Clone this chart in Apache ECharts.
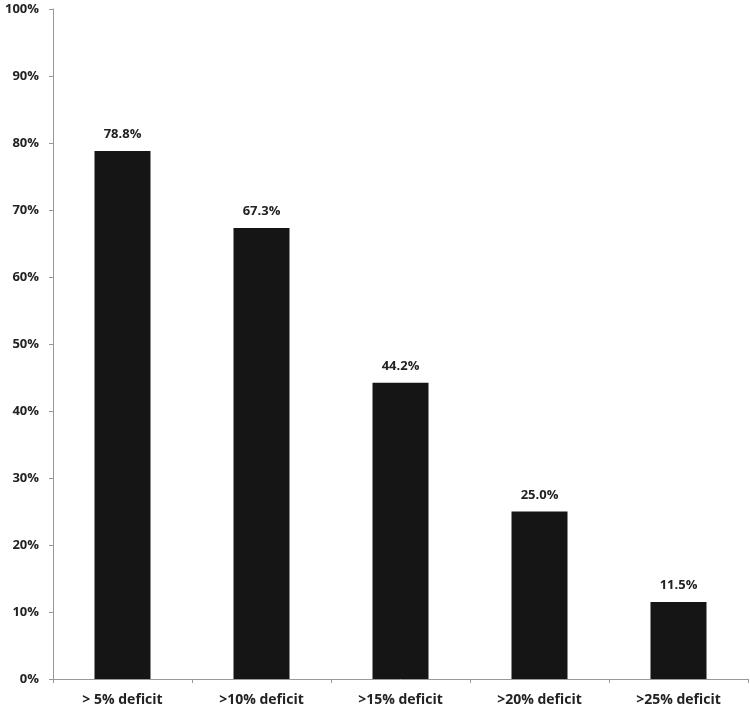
<!DOCTYPE html>
<html><head><meta charset="utf-8">
<script src="https://cdn.jsdelivr.net/npm/echarts@6/dist/echarts.min.js"></script>
<style>html,body{margin:0;padding:0;background:#fff}#c{width:750px;height:711px}</style>
</head><body><div id="c"></div>
<script>
const categories = ['> 5% deficit', '>10% deficit', '>15% deficit', '>20% deficit', '>25% deficit'];
const values = [78.8, 67.3, 44.2, 25.0, 11.5];
const yTicks = [0, 10, 20, 30, 40, 50, 60, 70, 80, 90, 100];

const chart = echarts.init(document.getElementById('c'));
const font = '"Open Sans", sans-serif';
chart.setOption({
  animation: false,
  grid: { left: 53, right: 2, top: 9, bottom: 32, containLabel: false },
  xAxis: {
    type: 'category', data: categories,
    axisLine: { lineStyle: { color: '#999', width: 1 } },
    axisTick: { show: true, alignWithLabel: false, length: 4, lineStyle: { color: '#999' } },
    axisLabel: { color: '#222', fontFamily: font, fontWeight: 'bold', fontSize: 14, margin: 14 }
  },
  yAxis: {
    type: 'value', min: yTicks[0], max: yTicks[yTicks.length - 1], interval: 10,
    axisLine: { show: true, lineStyle: { color: '#999', width: 1 } },
    axisTick: { show: true, length: 4, lineStyle: { color: '#999' } },
    splitLine: { show: false },
    axisLabel: { color: '#222', fontFamily: font, fontWeight: 'bold', fontSize: 13, margin: 14, formatter: v => v + '%' }
  },
  series: [{
    type: 'bar', data: values, barWidth: 56,
    itemStyle: { color: '#151515' },
    label: { show: true, position: 'top', distance: 10, color: '#222', fontFamily: font, fontWeight: 'bold', fontSize: 13,
      formatter: p => p.value.toFixed(1) + '%' }
  }]
});
</script></body></html>
